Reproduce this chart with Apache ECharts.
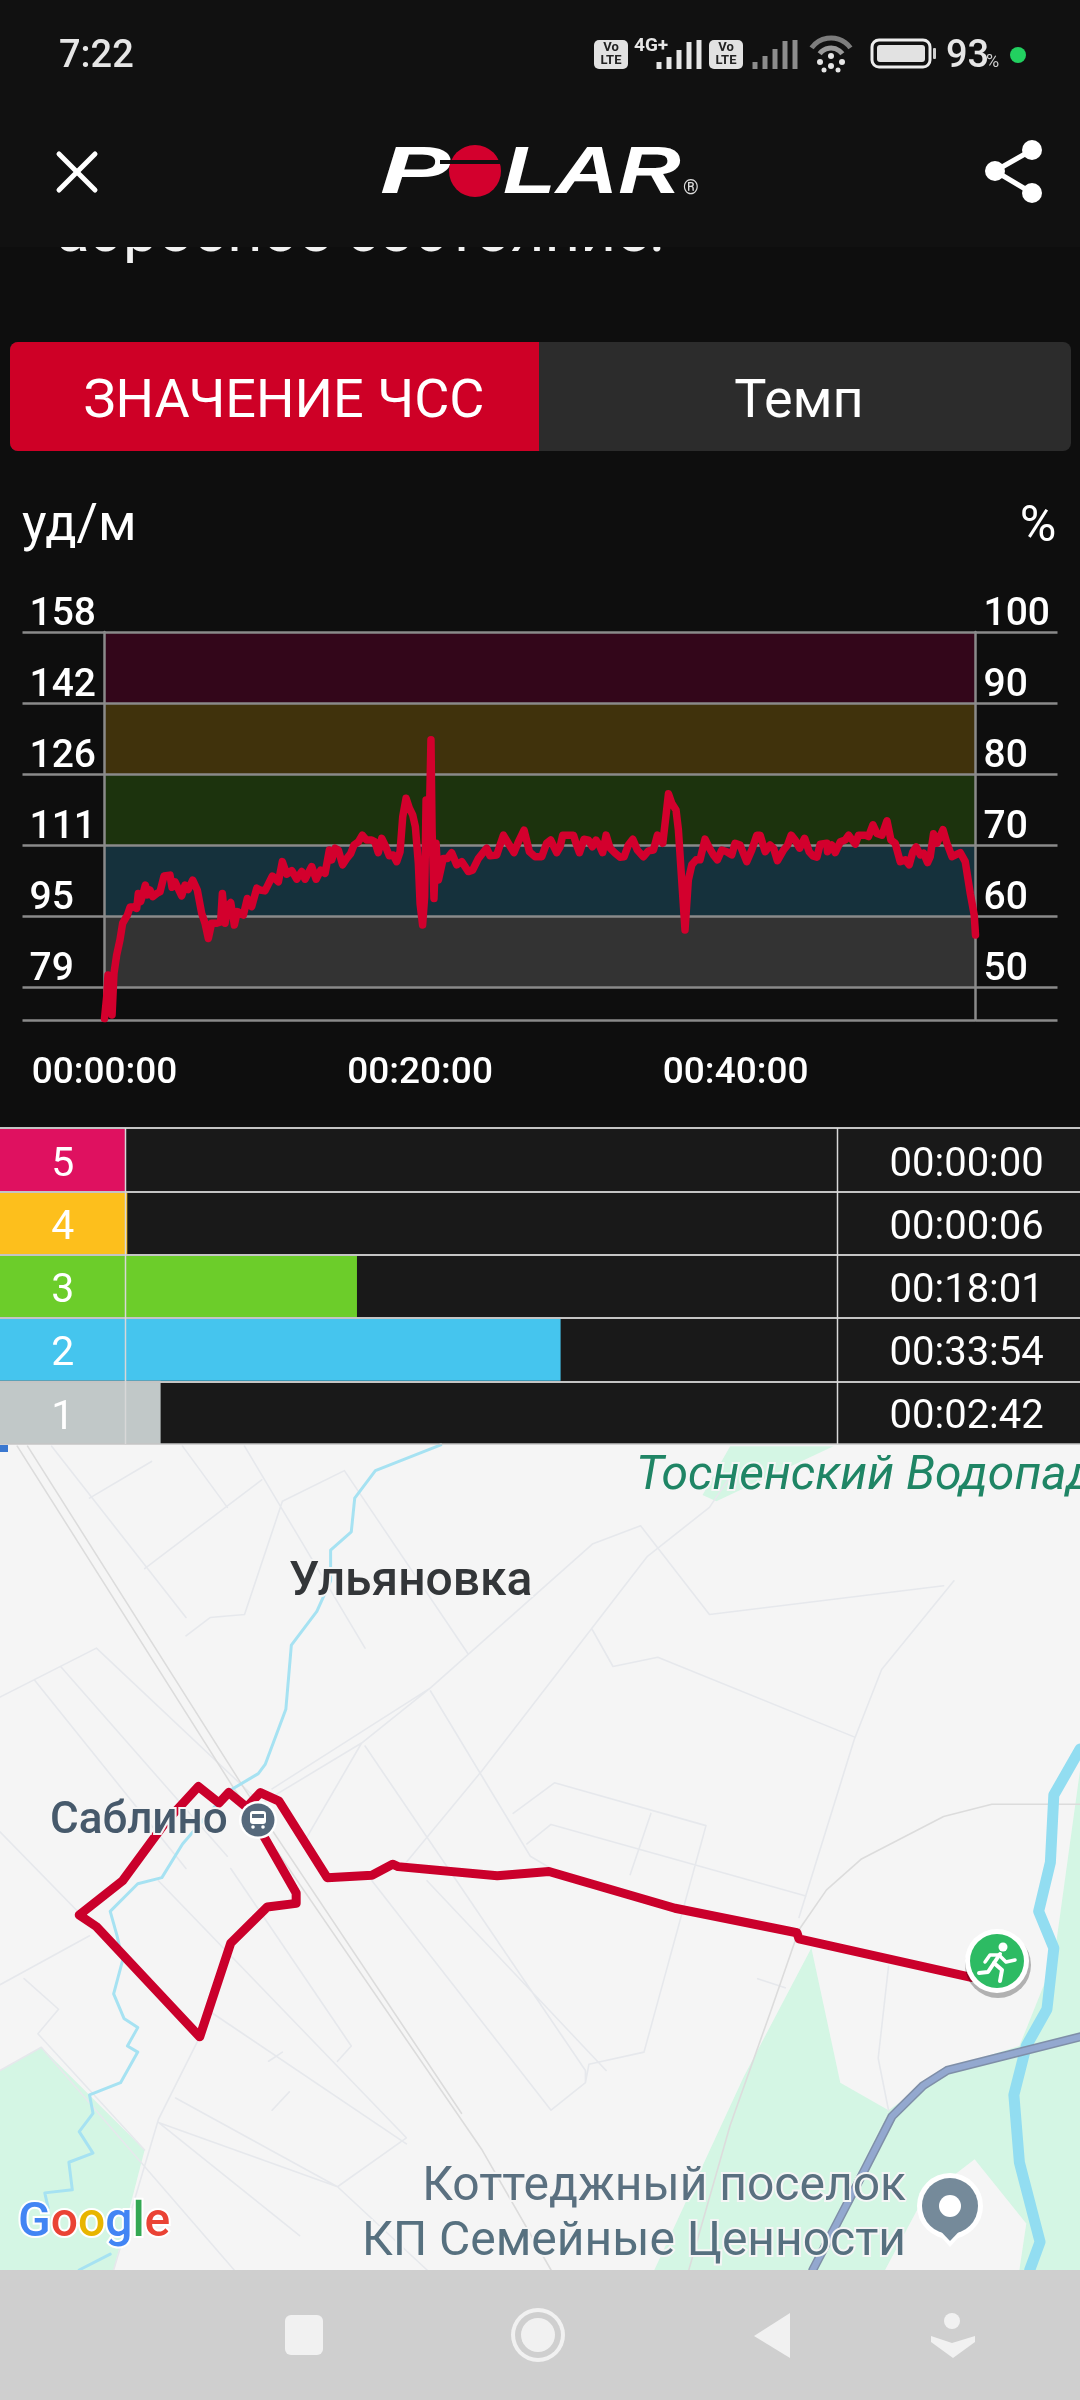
<!DOCTYPE html>
<html><head><meta charset="utf-8">
<style>html,body{margin:0;padding:0;background:#0e0e0e}#c{width:1080px;height:2400px}</style>
<script src="https://cdn.jsdelivr.net/npm/echarts@6/dist/echarts.min.js"></script>
</head><body><div id="c"></div>
<script>
// ---------- Heart-rate curve ----------
const hrMinutes = [0,0.14,0.22,0.35,0.48,0.60,0.77,0.98,1.15,1.45,1.62,1.83,2.04,2.14,2.29,2.42,2.59,2.72,2.88,3.05,3.31,3.52,3.77,4.15,4.28,4.47,4.89,5.10,5.31,5.59,5.88,6.16,6.37,6.58,6.79,7.11,7.36,7.47,7.64,7.79,8.0,8.23,8.42,8.80,9.05,9.33,9.65,9.86,10.17,10.64,11.02,11.27,11.55,11.87,12.18,12.50,12.71,13.13,13.41,13.70,13.98,14.25,
14.29,14.40,14.61,14.82,15.09,15.35,15.60,15.81,16.09,16.34,16.61,16.93,17.14,17.35,17.57,17.78,18.05,18.30,18.52,18.73,18.90,19.11,19.32,19.53,19.70,19.89,20.0,20.16,20.29,20.38,20.48,20.59,20.69,20.76,20.88,21.01,21.16,21.47,21.73,22.0,22.32,22.64,23.06,23.33,23.69,24.22,24.43,24.86,25.28,25.59,25.95,26.23,26.59,26.93,27.29,27.71,28.02,28.28,28.66,
28.87,29.04,29.72,29.88,30.10,30.39,30.67,30.92,31.15,31.36,31.57,31.79,32.04,32.36,32.67,32.93,33.20,33.48,33.77,34.15,34.47,34.79,35.04,35.38,35.59,35.74,35.95,36.22,36.37,36.58,36.79,37.0,37.22,37.49,37.74,38.06,38.34,38.59,38.84,39.12,39.44,39.75,39.96,40.28,40.70,41.02,41.34,41.55,41.87,42.18,
42.40,42.65,43.04,43.29,43.52,43.77,44.05,44.37,44.66,44.89,45.15,45.36,45.78,45.82,46.10,46.31,46.63,46.94,47.16,47.58,47.79,48.21,48.42,48.70,48.95,49.27,49.59,49.84,50.11,50.43,50.75,51.0,51.23,51.44,51.70,51.91,52.16,52.33,52.54,52.76,53.14,53.39,53.71,54.24,54.55,54.87,55.12,55.2];
const hrBpm = [72.0,76.9,81.7,76.1,72.8,82.0,86.1,89.5,93.2,95.0,96.8,96.8,96.5,99.8,98.0,99.5,101.7,99.5,100.6,99.1,99.8,100.2,103.7,103.9,101.2,102.4,99.3,101.7,100.7,102.8,100.6,95.4,93.2,89.8,93.2,93.2,93.5,99.8,93.2,96.9,97.8,92.8,95.8,95.0,98.7,96.9,101.0,100.6,100.4,103.7,102.4,106.9,104.1,104.9,103.0,104.7,103.0,105.8,103.0,105.0,104.3,109.5,
109.9,107.3,109.9,109.5,106.2,107.6,108.7,110.6,111.3,112.8,111.7,111.7,111.3,108.9,112.1,110.6,108.2,108.4,106.9,109.1,116.9,121.0,118.8,117.3,114.7,106.5,97.6,92.8,99.1,120.6,113.9,116.9,134.0,113.9,98.7,111.0,102.8,107.6,107.6,108.9,106.2,106.9,104.7,105.0,107.6,109.9,108.2,108.4,112.8,111.0,108.9,111.3,113.9,109.1,108.0,108.0,111.0,111.7,108.9,
110.2,112.8,112.8,111.0,108.9,111.9,111.7,110.2,111.7,110.6,108.9,112.8,109.9,108.8,107.9,108.0,110.6,111.9,109.5,108.0,109.3,109.5,112.8,111.0,117.3,122.0,119.9,118.4,114.0,102.8,91.7,102.8,106.2,107.3,107.3,111.9,109.9,108.4,107.3,109.5,109.1,108.4,111.0,110.6,106.9,109.5,112.8,112.8,109.1,110.6,
109.9,107.1,109.5,110.6,112.8,111.7,109.9,112.1,109.1,108.2,107.9,110.8,111.0,109.1,110.6,108.9,111.3,111.7,112.8,110.8,112.8,112.8,112.5,115.1,113.2,112.8,116.0,111.7,111.0,106.9,107.3,106.2,109.1,110.2,108.4,108.8,106.7,108.0,113.1,111.0,114.0,111.0,108.0,108.9,106.9,99.8,95.0,90.6];

// ---------- Axes ----------
const bpmTicks = [79, 94.8, 110.6, 126.4, 142.2, 158];
const pctTicks = [50, 60, 70, 80, 90, 100];
const bpmMin = 71.67, pctMin = 45.36;
const totalMinutes = 55.2;
const bandColors = ['#333333','#15313c','#1c330d','#40320c','#33061a'];

// ---------- Zone table ----------
const zoneNames = ['5','4','3','2','1'];
const zoneTimes = ['00:00:00','00:00:06','00:18:01','00:33:54','00:02:42'];
const zoneSeconds = [0,6,1081,2034,162];
const zoneColors = ['#df1160','#fdbf1c','#6ccd2a','#45c5ee','#c1c8c8'];

// ---------- Route on the map (map units) ----------
const routeX = [1410,1160,1157,980,797,722,578,570,540,475,405,378,358,332,318,288,240,178,115,140,290,335,388,430,430,365];
const routeY = [878,815,805,765,705,712,697,693,711,715,590,576,600,576,593,566,625,720,776,795,975,822,763,757,740,612];

// ---------- Map background ----------
const roads = [
 [[210,210],[380,65]],[[130,95],[220,35]],[[75,10],[270,290]],[[265,10],[330,110]],[[355,10],[530,340]],
 [[0,420],[140,340],[385,600]],[[50,392],[270,700]],[[88,370],[330,680]],[[0,640],[130,790]],[[0,890],[130,810]],
 [[35,880],[85,930],[55,970],[210,1160]],[[230,720],[590,1140],[490,1220],[230,1115]],[[335,700],[510,990],[490,1015]],
 [[270,320],[305,290],[355,285],[410,100],[500,50],[680,350],[625,405],[395,570]],
 [[385,590],[525,495],[625,405],[860,170],[930,140],[1030,285],[1370,238]],
 [[860,310],[890,370],[955,355],[1240,485]],[[1385,230],[1280,375],[1240,490],[1160,780]],
 [[940,190],[700,540],[590,690]],[[625,410],[770,680],[800,700]],[[525,495],[445,650]],
 [[530,500],[850,1030],[850,1050],[800,1095],[540,720]],[[745,610],[805,560],[1025,630],[935,1000],[855,1020],[850,1050]],
 [[765,660],[800,628],[1170,745]],[[945,610],[915,710]],[[620,720],[880,1030]],[[395,1095],[420,1065]],
 [[230,1115],[435,1300]],[[255,1075],[490,1220],[620,1356]],[[290,975],[230,1110],[165,1356]],
 [[300,930],[590,1150]],[[1290,860],[1275,1010],[1290,1095]],[[1100,880],[1140,895]],[[0,1030],[60,992],[340,1356]],
 [[940,190],[1030,110],[1060,60]],[[410,1000],[390,1015]]
];
const rails = [
 [[25,10],[340,570],[700,1160],[800,1356]],[[40,10],[355,570],[670,1100]],
 [[1568,595],[1440,595],[1370,615],[1250,685],[1200,735],[1160,800],[1120,930],[1060,1120],[1000,1356]]
];
const brook = [[640,8],[545,50],[515,95],[510,150],[480,180],[480,230],[460,280],[423,335],[415,440],[385,530],[375,545],[330,575],[265,660],[235,715],[200,725],[160,770],[170,810],[178,850],[165,905],[180,945],[200,960],[185,990],[200,1000],[175,1050],[130,1070],[135,1100],[115,1130],[135,1165],[100,1180],[105,1225],[65,1230],[70,1255]];
const brookEnd = [[160,1330],[115,1356]];
const river = [[1568,505],[1530,580],[1525,690],[1508,770],[1530,830],[1520,930],[1490,990],[1472,1070],[1480,1180],[1510,1310],[1495,1356]];
const highway = [[1568,975],[1480,1000],[1375,1030],[1340,1055],[1295,1105],[1245,1215],[1180,1356]];
const parks = [
 [[0,1030],[60,992],[210,1160],[165,1356],[0,1356]],
 [[1178,830],[1220,1050],[1290,1095],[1175,1356],[950,1356],[1080,1040]],
 [[1290,1095],[1380,1025],[1480,990],[1530,850],[1568,540],[1568,1356],[1175,1356]],
 [[1060,10],[1210,10],[1040,100],[1020,90]]
];
const clearings = [[[1415,1175],[1490,1280],[1480,1356],[1285,1356],[1340,1240]]];

function flatten(lines){const out=[];lines.forEach(l=>{l.forEach(p=>out.push(p));out.push(['-','-']);});return out;}

const FONT='Roboto';
const chart = echarts.init(document.getElementById('c'),null,{renderer:'canvas',width:1080,height:2400});

function txt(text,x,y,size,fill,o){o=o||{};const el={type:'text',x:x,y:y,z:o.z===undefined?20:o.z,style:Object.assign({text:text,fill:fill,fontFamily:o.family||FONT,fontSize:size,fontWeight:o.weight||'normal',fontStyle:o.italic?'italic':'normal',align:o.align||'left',verticalAlign:'middle'},o.halo?{stroke:o.halo,lineWidth:o.haloW||4}:{})};if(o.scaleX)el.scaleX=o.scaleX;return el;}
function rect(x,y,w,h,fill,z,r){return {type:'rect',z:z,shape:{x:x,y:y,width:w,height:h,r:r||0},style:{fill:fill}};}
function hline(x1,y,x2,col,w,z){return {type:'line',z:z,shape:{x1:x1,y1:y,x2:x2,y2:y},style:{stroke:col,lineWidth:w}};}
function vline(x,y1,y2,col,w,z){return {type:'line',z:z,shape:{x1:x,y1:y1,x2:x,y2:y2},style:{stroke:col,lineWidth:w}};}
function circ(cx,cy,r,fill,z,extra){return {type:'circle',z:z,shape:{cx:cx,cy:cy,r:r},style:Object.assign({fill:fill},extra||{})};}
function poly(pts,fill,z,extra){return {type:'polygon',z:z,shape:{points:pts},style:Object.assign({fill:fill},extra||{})};}
function pline(pts,col,w,z){return {type:'polyline',z:z,shape:{points:pts},style:{stroke:col,lineWidth:w,fill:null,lineCap:'round',lineJoin:'round'}};}
function bars(x0,step,hs,bottom,col,w,z){return hs.map((h,i)=>vline(x0+i*step,bottom-h,bottom,col,w,z));}

const g = [];
// page + header
g.push(rect(0,0,1080,2400,'#0e0e0e',-20));
g.push(txt('аэробное состояние.',56,235,62,'#f2f2f2',{z:-12}));
g.push(rect(0,0,1080,247,'#111111',-10));
// status bar
g.push(txt('7:22',59,57,38,'#e6e6e6',{z:5,weight:'500'}));
[[594,'#e2e2e2'],[709,'#e2e2e2']].forEach(a=>{
  g.push(rect(a[0],40,34,29,a[1],5,5));
  g.push(txt('Vo',a[0]+17,48,13,'#222',{z:6,align:'center',weight:'bold'}));
  g.push(txt('LTE',a[0]+17,61,13,'#222',{z:6,align:'center',weight:'bold'}));
});
g.push(txt('4G+',634,46,19,'#e6e6e6',{z:6,weight:'bold'}));
g.push(...bars(659,10,[7,12,19,27,29],69,'#e6e6e6',5,5));
g.push(...bars(755,10,[7,13,20,28,29],69,'#8d8d8d',5,5));
g.push({type:'arc',z:5,shape:{cx:831,cy:62,r:24,startAngle:Math.PI*1.2,endAngle:Math.PI*1.8},style:{stroke:'#7d7d7d',lineWidth:5,fill:null}});
g.push({type:'arc',z:5,shape:{cx:831,cy:62,r:14,startAngle:Math.PI*1.2,endAngle:Math.PI*1.8},style:{stroke:'#9a9a9a',lineWidth:5,fill:null}});
g.push(circ(831,66,3,'#e6e6e6',5),circ(820,62,3,'#e6e6e6',5),circ(842,62,3,'#e6e6e6',5),circ(831,56,3,'#e6e6e6',5),circ(838,70,2.5,'#e6e6e6',5),circ(824,70,2.5,'#e6e6e6',5));
g.push({type:'rect',z:5,shape:{x:872,y:40,width:58,height:27,r:7},style:{fill:null,stroke:'#ededed',lineWidth:3}});
g.push(rect(877,45,48,17,'#e2e2e2',5,3));
g.push(rect(933,48,3,11,'#d0d0d0',5,1));
g.push(txt('93',946,57,38,'#e6e6e6',{z:5,weight:'500'}));
g.push(txt('%',986,62,18,'#cfcfcf',{z:5}));
g.push(circ(1018,55,8,'#22d060',5));
// header icons
g.push(pline([[59,154],[95,190]],'#ffffff',5,5),pline([[95,154],[59,190]],'#ffffff',5,5));
g.push(pline([[1032,150],[995,171],[1032,193]],'#ffffff',5,5));
g.push(circ(1032,150,10,'#fff',5),circ(995,171,10,'#fff',5),circ(1032,193,10,'#fff',5));
// Polar logo
g.push(txt('P',380,175,66,'#ffffff',{z:5,weight:'900',italic:true,family:'Liberation Sans',scaleX:1.6}));
g.push(circ(475,171,26,'#d3002d',5));
g.push(rect(440,160,70,4,'#111111',6));
g.push(txt('LAR',503,175,66,'#ffffff',{z:5,weight:'900',italic:true,family:'Liberation Sans',scaleX:1.31}));
g.push(txt('®',683,189,20,'#dddddd',{z:5}));
// tabs
g.push(rect(10,342,1061,109,'#2c2c2c',-5,8));
g.push({type:'rect',z:-4,shape:{x:10,y:342,width:529,height:109,r:[8,0,0,8]},style:{fill:'#ce0026'}});
g.push(txt('ЗНАЧЕНИЕ ЧСС',284,403,54,'#ffffff',{z:5,align:'center'}));
g.push(txt('Темп',799,403,54,'#ffffff',{z:5,align:'center'}));
// chart units
g.push(txt('уд/м',22,527,52,'#ffffff',{z:5}));
g.push(txt('%',1038,528,50,'#ffffff',{z:5,align:'center'}));
// table background and rules
g.push(rect(838,1128,242,316,'#191919',-5));
[1128,1192,1255,1318,1382].forEach(y=>g.push(hline(0,y,1080,'#c4c4c4',2,15)));
g.push(hline(0,1444,1080,'#c4c4c4',1.5,15));
g.push(vline(125.5,1128,1444,'#d8d8d8',1.5,15),vline(837.5,1128,1444,'#d8d8d8',1.5,15));
g.push(rect(0,1445,8,7,'#3b78d0',16));
// map background
g.push(rect(0,1444,1080,826,'#f5f5f5',-6));
// map labels
const H='#f5f5f5';
g.push(txt('Тосненский Водопад',636,1477,48,'#1f8565',{italic:true,halo:H}));
g.push(txt('Ульяновка',289,1583,48,'#333639',{weight:'500',halo:H}));
g.push(txt('Саблино',50,1822,44,'#46596b',{halo:H,weight:'500'}));
g.push(circ(258,1820,19,'#ffffff',21),circ(258,1820,16.5,'#56697c',22));
g.push(rect(250,1811,16,13,'#ffffff',23,3),rect(252,1814,12,4,'#56697c',24),circ(253,1827,1.8,'#fff',23),circ(263,1827,1.8,'#fff',23));
g.push(txt('Коттеджный поселок',906,2188,48,'#5a7080',{align:'right',halo:H}));
g.push(txt('КП Семейные Ценности',906,2243,48,'#56707f',{align:'right',halo:H}));
const gl=(c)=>({fill:c,fontSize:48,fontFamily:FONT,fontWeight:500,stroke:'#fff',lineWidth:4});
g.push({type:'text',x:18,y:2224,z:20,style:{text:'{b|G}{r|o}{y|o}{b|g}{g|l}{r|e}',fontFamily:FONT,fontSize:48,verticalAlign:'middle',stroke:'#ffffff',lineWidth:4,
  rich:{b:gl('#4285f4'),r:gl('#ea4335'),y:gl('#e8b500'),g:gl('#34a853')}}});
// start marker
g.push(circ(998,1965,33,'rgba(0,0,0,0.28)',24));
g.push(circ(997,1961,32,'#ffffff',25),circ(997,1961,27,'#2dbb63',26));
g.push(circ(1003,1947,4.5,'#fff',27));
g.push(pline([[1000,1954],[994,1963],[1002,1970],[1000,1981]],'#fff',4,27),pline([[994,1963],[988,1972],[979,1973]],'#fff',4,27),pline([[999,1955],[1006,1962],[1015,1960]],'#fff',3.5,27),pline([[999,1955],[990,1955],[985,1962]],'#fff',3.5,27));
// location pin
g.push(poly([[924,2218],[976,2218],[950,2247]],'#ffffff',24));
g.push(circ(950,2206,33,'#ffffff',24));
g.push(poly([[928,2218],[972,2218],[950,2241]],'#758a9a',25),circ(950,2206,28,'#758a9a',25),circ(950,2206,11,'#ffffff',26));
// nav bar
g.push(rect(0,2270,1080,130,'#cfcfcf',40));
g.push(rect(285,2315,38,40,'#f1f1f1',41,6));
g.push(circ(538,2335,27,'#f1f1f1',41),circ(538,2335,23,'#cfcfcf',41),circ(538,2335,17,'#f1f1f1',41));
g.push(poly([[754,2336],[790,2313],[790,2358]],'#f1f1f1',41));
g.push(circ(952,2321,8,'#f1f1f1',41),poly([[931,2336],[952,2343],[975,2336],[975,2342],[953,2358],[931,2342]],'#f1f1f1',41));

const axisGrey = '#8a8a8a';
const customPolys = (list,fill)=>({type:'custom',coordinateSystem:'cartesian2d',xAxisIndex:3,yAxisIndex:4,z:1,clip:true,silent:true,
  data:list.map((_,i)=>[i]),encode:{x:[],y:[]},
  renderItem:(p,api)=>({type:'polygon',shape:{points:list[api.value(0)].map(c=>api.coord(c))},style:{fill:fill}})});
const mapLine = (data,col,w,z)=>({type:'line',xAxisIndex:3,yAxisIndex:4,data:data,showSymbol:false,symbol:'none',connectNulls:false,silent:true,z:z,lineStyle:{color:col,width:w,cap:'round',join:'round'}});
const axisText = {color:'#fff',fontFamily:FONT,fontSize:39,fontWeight:500,lineHeight:34,align:'left',verticalAlign:'bottom'};

chart.setOption({
  animation:false,
  backgroundColor:'transparent',
  tooltip:{show:false},
  graphic:{elements:g},
  grid:[
    {left:104.5,top:632,width:871,height:388},
    {left:126,top:1128,width:711.5,height:316,show:true,backgroundColor:'#191919',borderWidth:0},
    {left:0,top:1128,width:125.5,height:316,borderWidth:0},
    {left:0,top:1444,width:1080,height:826,borderWidth:0}
  ],
  xAxis:[
    {type:'value',gridIndex:0,min:0,max:totalMinutes,interval:20,z:2,
      axisLine:{show:false},axisTick:{show:false},splitLine:{show:false},
      axisLabel:{color:'#fff',fontFamily:FONT,fontSize:37,fontWeight:500,margin:35,showMaxLabel:false,
        formatter:v=>'00:'+String(v).padStart(2,'0')+':00'}},
    {type:'value',gridIndex:1,min:0,max:3330,show:false},
    {type:'value',gridIndex:2,min:0,max:1,show:false},
    {type:'value',gridIndex:3,min:0,max:1568,show:false}
  ],
  yAxis:[
    {type:'value',gridIndex:0,position:'left',min:bpmMin,max:158,z:2,
      axisLine:{show:true,lineStyle:{color:axisGrey,width:2.5}},
      axisTick:{show:true,length:82,lineStyle:{color:axisGrey,width:2.5},customValues:[bpmMin].concat(bpmTicks)},
      splitLine:{show:true,lineStyle:{color:axisGrey,width:2.5}},
      axisLabel:Object.assign({},axisText,{margin:75,customValues:bpmTicks,formatter:v=>String(Math.round(v))})},
    {type:'value',gridIndex:0,position:'right',min:pctMin,max:100,z:2,
      axisLine:{show:true,lineStyle:{color:axisGrey,width:2.5}},
      axisTick:{show:true,length:82,lineStyle:{color:axisGrey,width:2.5},customValues:[pctMin].concat(pctTicks)},
      splitLine:{show:false},
      axisLabel:Object.assign({},axisText,{margin:8,customValues:pctTicks,formatter:v=>String(Math.round(v))})},
    {type:'category',gridIndex:1,inverse:true,data:zoneTimes,position:'right',
      axisLine:{show:false},axisTick:{show:false},splitLine:{show:false},
      axisLabel:{color:'#fff',fontFamily:FONT,fontSize:40,margin:52,verticalAlign:'top',lineHeight:12}},
    {type:'category',gridIndex:2,inverse:true,data:zoneNames,show:false},
    {type:'value',gridIndex:3,min:6.5,max:1356,inverse:true,show:false}
  ],
  series:[
    {type:'line',name:'zones',xAxisIndex:0,yAxisIndex:0,data:[],z:1,silent:true,
      markArea:{silent:true,data:bandColors.map((c,i)=>[{yAxis:bpmTicks[i],itemStyle:{color:c,opacity:1}},{yAxis:bpmTicks[i+1]}])}},
    {type:'line',name:'ЧСС',xAxisIndex:0,yAxisIndex:0,data:hrMinutes.map((t,i)=>[t,hrBpm[i]]),z:5,clip:false,silent:true,
      symbol:'none',showSymbol:false,lineStyle:{color:'#d3002d',width:7.5,join:'round',cap:'round'}},
    {type:'bar',name:'zone time',xAxisIndex:1,yAxisIndex:2,barWidth:'100%',silent:true,
      data:zoneSeconds.map((v,i)=>({value:v,itemStyle:{color:zoneColors[i]}}))},
    {type:'bar',name:'zone',xAxisIndex:2,yAxisIndex:3,barWidth:'100%',silent:true,
      data:zoneNames.map((n,i)=>({value:1,itemStyle:{color:zoneColors[i]}})),
      label:{show:true,position:'inside',offset:[0,6],color:'#fff',fontFamily:FONT,fontSize:41,formatter:p=>zoneNames[p.dataIndex]}},
    customPolys(parks,'#d4f6e4'),
    customPolys(clearings,'#f5f5f5'),
    mapLine(flatten(roads),'#e6e8ec',1.6,2),
    mapLine(flatten(rails),'#dcdcdc',1.6,2),
    mapLine(flatten([brook,brookEnd]),'#a6e2f2',3,3),
    mapLine(river,'#92ddf1',11,3),
    mapLine(highway,'#7f8fa8',9,3),
    mapLine(highway,'#93a8cf',6,3),
    {type:'line',name:'route',xAxisIndex:3,yAxisIndex:4,data:routeX.map((x,i)=>[x,routeY[i]]),z:6,symbol:'none',showSymbol:false,silent:true,
      lineStyle:{color:'#ca002b',width:9,join:'round',cap:'round'}}
  ]
});
</script></body></html>
